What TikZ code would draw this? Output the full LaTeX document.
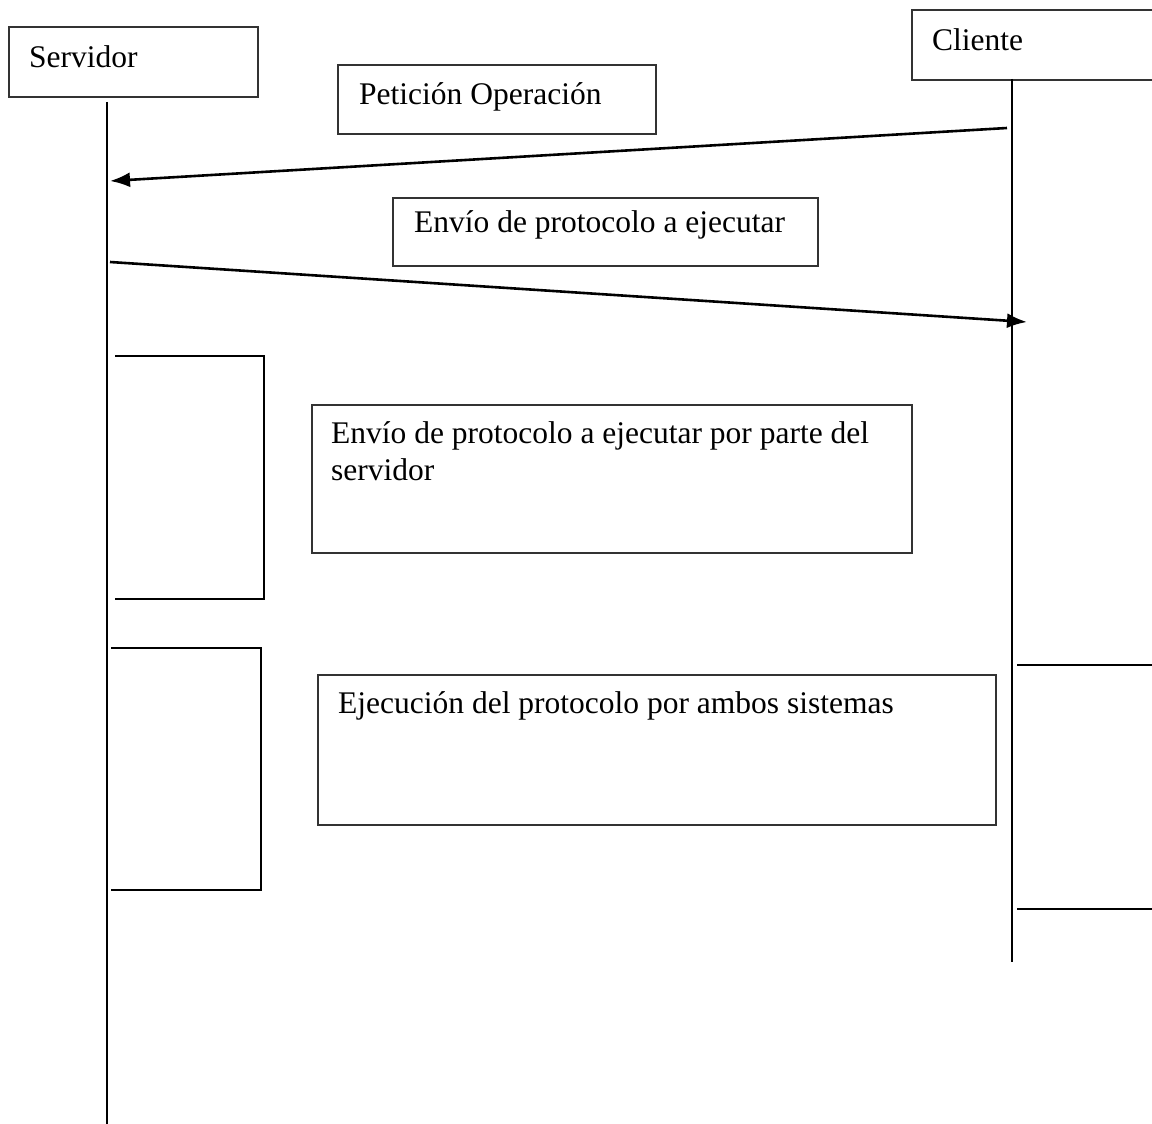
\documentclass[tikz,border=0pt]{standalone}
\usepackage{fontspec}
\setmainfont{Liberation Serif}
\usetikzlibrary{arrows.meta}
\begin{document}
\begin{tikzpicture}[
x=1pt, y=-1pt,
actorbox/.style={rectangle, draw=black!80, line width=1.6pt, anchor=north west, inner sep=0pt},
msgbox/.style={rectangle, draw=black!80, line width=1.6pt, anchor=north west, inner sep=0pt},
msgtxt/.style={anchor=base west, inner sep=0pt, align=left, font=\fontsize{31.5}{37}\selectfont},
lifeline/.style={line width=2.4pt},
msg/.style={line width=2.6pt, -{Latex[length=20pt,width=15pt]}},
bracket/.style={line width=2.2pt},
]
\useasboundingbox (0,0) rectangle (1152,1124);
\clip (0,0) rectangle (1152,1124);
%Actors
\node[actorbox, minimum width=249pt, minimum height=70pt](servidor) at (8,26) {};
\node[msgtxt](servidortxt) at (29,68) {Servidor};
\node[actorbox, minimum width=260pt, minimum height=70pt](cliente) at (911,9) {};
\node[msgtxt](clientetxt) at (932,51) {Cliente};

%Lifelines
\coordinate (svtop) at (107,102);
\coordinate (svend) at (107,1124);
\coordinate (cltop) at (1012,79);
\coordinate (clend) at (1012,962);
\draw[lifeline] (svtop) -- (svend);
\draw[lifeline] (cltop) -- (clend);

%Messages
\coordinate (m1from) at (1007,128);
\coordinate (m1to) at (110,181);
\coordinate (m2from) at (110,262);
\coordinate (m2to) at (1027,322);
\draw[msg] (m1from) -- (m1to);
\draw[msg] (m2from) -- (m2to);

%Boxes
\node[msgbox, minimum width=318pt, minimum height=69pt](peticion) at (337,64) {};
\node[msgtxt](peticiontxt) at (359,105) {Petición Operación};
\node[msgbox, minimum width=425pt, minimum height=68pt](envio) at (392,197) {};
\node[msgtxt](enviotxt) at (414,232) {Envío de protocolo a ejecutar};
\node[msgbox, minimum width=600pt, minimum height=148pt](envioserv) at (311,404) {};
\node[msgtxt](envioservtxt) at (331,480) {Envío de protocolo a ejecutar por parte del\\servidor};
\node[msgbox, minimum width=678pt, minimum height=150pt](ejecucion) at (317,674) {};
\node[msgtxt](ejecuciontxt) at (338,713) {Ejecución del protocolo por ambos sistemas};

%Activations
\draw[bracket] (115,356) -- (264,356) -- (264,599) -- (115,599);
\draw[bracket] (111,648) -- (261,648) -- (261,890) -- (111,890);
\draw[bracket] (1017,665) -- (1152,665);
\draw[bracket] (1017,909) -- (1152,909);
\end{tikzpicture}
\end{document}
